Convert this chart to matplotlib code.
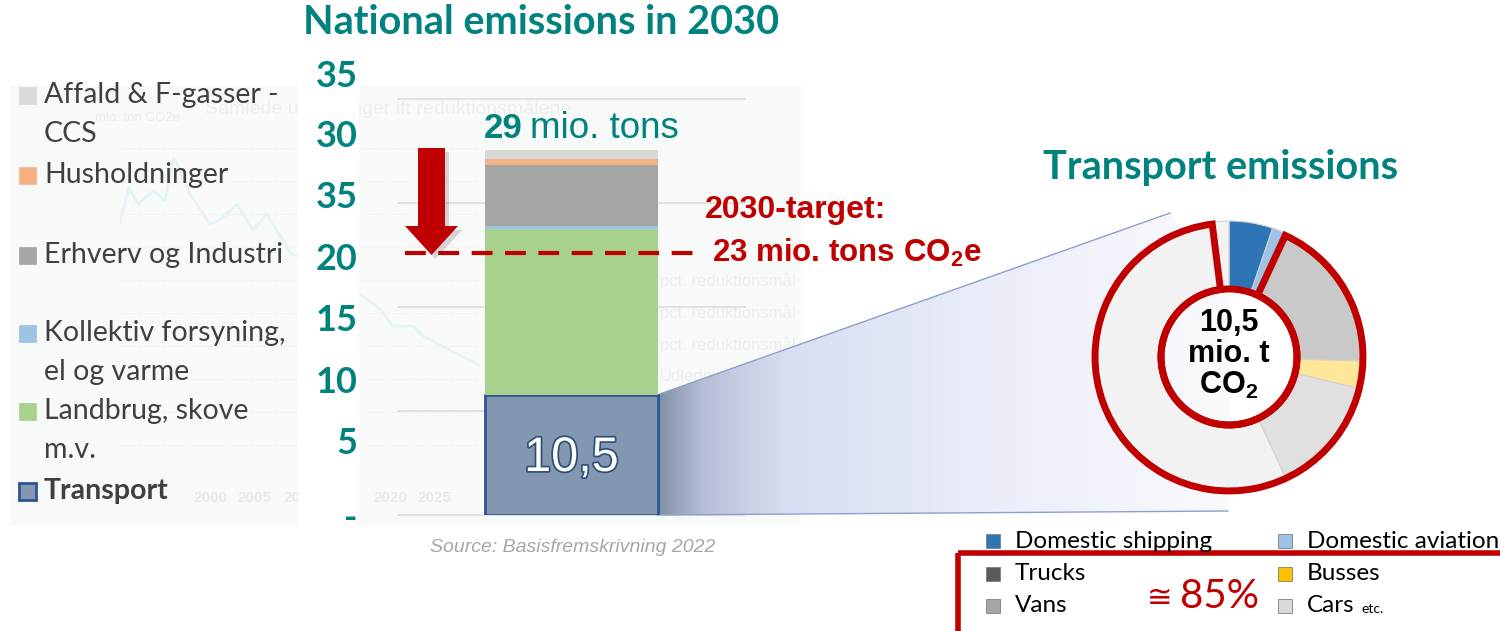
"""National emissions in 2030: stacked bar plus transport emissions donut."""

import numpy as np
import matplotlib
matplotlib.use("Agg")
import matplotlib.pyplot as plt
from matplotlib.patches import Polygon, Rectangle, Wedge, Circle, FancyArrow
from matplotlib.colors import LinearSegmentedColormap
import matplotlib.patheffects as pe

plt.rcParams["font.family"] = ["Liberation Sans", "DejaVu Sans"]
plt.rcParams["mathtext.fontset"] = "custom"
plt.rcParams["mathtext.rm"] = "Liberation Sans"
plt.rcParams["mathtext.bf"] = "Liberation Sans:bold"

# --- data --------------------------------------------------------------
sectors = ["Transport", "Landbrug, skove\nm.v.", "Kollektiv forsyning,\nel og varme",
           "Erhverv og Industri", "Husholdninger", "Affald & F-gasser -\nCCS"]
sector_values = [9.6, 13.2, 0.2, 4.9, 0.5, 0.7]          # mio. tons, as drawn
sector_colors = ["#8497B0", "#A9D18E", "#9DC3E6", "#A5A5A5", "#F4B183", "#D9D9D9"]

ytick_pos = [0, 5.9, 10.8, 15.7, 20.6, 25.5, 30.4, 35.2]
ytick_labels = ["-", "5", "10", "15", "20", "35", "30", "35"]
target_drawn = 20.9

transport_parts = ["Domestic shipping", "Domestic aviation", "Trucks", "Busses",
                   "Vans", "Cars etc.", "Other"]
transport_share = [5.2, 1.7, 18.6, 3.3, 14.2, 55.0, 2.0]
legend_colors = ["#2E75B6", "#9DC3E6", "#595959", "#FFC000", "#A5A5A5", "#D9D9D9"]
donut_colors = ["#2E75B6", "#9DC3E6", "#C9C9C9", "#FFE699", "#E0E0E0", "#F2F2F2", "#F2F2F2"]

# faint background picture (historical emissions line)
bg_years = [1990, 1991, 1992, 1993.7, 1995, 1996, 1997.8, 2000, 2001, 2003, 2004.8,
            2006.3, 2009, 2010, 2013, 2016, 2019, 2020.3, 2022.6, 2023.7, 2030]
bg_values = [77.6, 88, 83, 87, 84, 97, 86, 77, 78, 83, 75, 80, 68, 67, 62, 57, 51, 46, 46, 43, 34]

TEAL = "#00827F"
RED = "#C00000"
W, H = 1500, 631
LATO = ["Lato", "DejaVu Sans"]

fig = plt.figure(figsize=(15, 6.31), dpi=100)


def pixel_axes():
    a = fig.add_axes([0, 0, 1, 1])
    a.set_xlim(0, W)
    a.set_ylim(H, 0)
    a.axis("off")
    a.patch.set_alpha(0)
    return a


# back layer: faded picture, funnel
back = pixel_axes()
back.add_patch(Rectangle((10, 85), 790, 440, color="#F8FAFA", zorder=0))
back.text(95, 118, "mio. ton CO2e", color="#EBEBEB", fontsize=9.5, va="center")
back.text(205, 108, "Samlede udledninger ift reduktionsmålene", color="#EDEDED",
          fontsize=14, va="center")
for yy, s in [(281, "pct. reduktionsmål"), (313, "pct. reduktionsmål"),
              (345, "pct. reduktionsmål"), (377, "Udledning")]:
    back.text(660, yy, s, color="#EDEDED", fontsize=12, va="center")

bg = fig.add_axes([120 / W, (H - 478) / H, (480 - 120) / W, (478 - 148) / H])
bg.set_xlim(1990, 2030)
bg.set_ylim(0, 100)
bg.axis("off")
bg.plot(bg_years, bg_values, color="#E4F3F6", lw=2)
for v in range(10, 101, 10):
    bg.axhline(v, color="#F1F1F1", lw=0.8, ls="--")
for yr in [2000, 2005, 2010, 2020, 2025]:
    bg.text(yr, -4, str(yr), color="#E8E8E8", fontsize=11, ha="center", va="top",
            fontweight="bold")

mid = pixel_axes()
mid.add_patch(Rectangle((298, 60), 60, 470, color="white", zorder=1))
for gy in [99, 203, 307, 411, 515]:
    mid.plot([398, 745], [gy, gy], color="#DCDCDC", lw=1.2, zorder=1)

# funnel from transport bar to donut
poly = Polygon([(657, 395), (1170, 213), (1229, 300), (1228, 511), (657, 515)],
               closed=True, facecolor="none", edgecolor="none")
mid.add_patch(poly)
cmap = LinearSegmentedColormap.from_list(
    "funnel", [(0, "#7F8FA6"), (0.08, "#B7C0D8"), (0.22, "#D8DEF1"),
               (0.6, "#EBEEF9"), (1, "#FAFAFD")])
grad = np.linspace(0, 1, 256)[None, :]
im = mid.imshow(grad, cmap=cmap, extent=(657, 1229, 515, 205), aspect="auto", zorder=2)
im.set_clip_path(poly)
mid.plot([657, 1170], [395, 213], color="#8FA0C8", lw=1, zorder=2)
mid.plot([657, 1228], [515, 511], color="#8FA0C8", lw=1, zorder=2)
mid.set_xlim(0, W)
mid.set_ylim(H, 0)

# stacked bar
ax = fig.add_axes([398 / W, (H - 515) / H, 347 / W, 36 * 12.55 / H])
ax.set_xlim(-1, 1)
ax.set_ylim(0, 36)
ax.patch.set_alpha(0)
bottom = 0
for val, col in zip(sector_values, sector_colors):
    ax.bar(0, val, width=1.0, bottom=bottom, color=col, zorder=3)
    bottom += val
ax.patches[0].set_edgecolor("#2F5597")
ax.patches[0].set_linewidth(2)
ax.text(0, sector_values[0] / 2 - 0.3, "10,5", color="white", fontsize=35, ha="center",
        va="center", zorder=5,
        path_effects=[pe.withStroke(linewidth=2.5, foreground="#2F4F7A")])
ax.hlines(target_drawn, -0.96, 0.70, color=RED, lw=3, linestyles=(0, (5, 3)), zorder=4)
ax.set_yticks(ytick_pos)
ax.set_yticklabels(ytick_labels)
ax.tick_params(axis="y", length=0, pad=29, labelsize=26, labelcolor=TEAL)
for lab in ax.get_yticklabels():
    lab.set_fontweight("bold")
    lab.set_family(LATO)
ax.set_xticks([])
for sp in ax.spines.values():
    sp.set_visible(False)

# donut
dax = fig.add_axes([(1229 - 170) / W, (H - 357 - 170) / H, 340 / W, 340 / H])
dax.set_xlim(-1.1, 1.1)
dax.set_ylim(-1.1, 1.1)
dax.set_aspect("equal")
dax.axis("off")
dax.pie(transport_share, colors=donut_colors, startangle=90, counterclock=False,
        radius=1, wedgeprops=dict(width=0.5, edgecolor="#D0D0D0", linewidth=0.8))
cum = np.cumsum([0] + transport_share) / np.sum(transport_share)
start, end = cum[2], cum[6]
dax.add_patch(Wedge((0, 0), 0.985, 90 - end * 360, 90 - start * 360, width=0.485,
                    fill=False, edgecolor=RED, lw=5, zorder=5))
dax.add_patch(Circle((0, 0), 0.5, fill=False, edgecolor=RED, lw=5, zorder=5))
dax.text(0, 0.02, "10,5\nmio. t\nCO$_\\mathbf{2}$", fontsize=22, fontweight="bold",
         ha="center", va="center", linespacing=1.05)

# front layer: titles, arrow, annotations, legends
front = pixel_axes()
front.text(541, 22, "National emissions in 2030", color=TEAL, fontsize=28.5,
           fontweight="bold", family=LATO, ha="center", va="center")
front.text(1221, 167, "Transport emissions", color=TEAL, fontsize=28.5,
           fontweight="bold", family=LATO, ha="center", va="center")
front.text(484, 128, "29", color=TEAL, fontsize=25, fontweight="bold", ha="left",
           va="center")
front.text(530, 128, "mio. tons", color=TEAL, fontsize=26.5, ha="left", va="center")

front.add_patch(FancyArrow(435.5, 152, 0, 107, width=27, head_width=53, head_length=29,
                           length_includes_head=True, color="#000000", alpha=0.15,
                           lw=0, zorder=5))
front.add_patch(FancyArrow(431.5, 148, 0, 107, width=27, head_width=53, head_length=29,
                           length_includes_head=True, color=RED, lw=0, zorder=6))
front.text(705, 210, "2030-target:", color=RED, fontsize=23, fontweight="bold",
           va="center")
front.text(712, 253, r"23 mio. tons CO$_\mathbf{2}$e", color=RED, fontsize=22.5,
           fontweight="bold", va="center")

# left legend
leg_y = {5: 95, 4: 175, 3: 255, 2: 333, 1: 411, 0: 491}
for idx, y in leg_y.items():
    edge = "#2F5597" if idx == 0 else sector_colors[idx]
    front.add_patch(Rectangle((19, y - 8.5), 17, 17, facecolor=sector_colors[idx],
                              edgecolor=edge, lw=2 if idx == 0 else 0.5))
    for k, line in enumerate(sectors[idx].split("\n")):
        front.text(44, y + 39 * k, line, color="#404040", fontsize=20.5,
                   fontweight="bold" if idx == 0 else "normal",
                   family=LATO, va="center")

front.text(573, 548, "Source: Basisfremskrivning 2022", color="#A6A6A6", fontsize=14,
           style="italic", ha="center", va="center")

# transport legend
leg_pos = [(993, 541), (1285, 541), (993, 574), (1285, 574), (993, 606), (1285, 606)]
for (lx, ly), name, col in zip(leg_pos, transport_parts[:6], legend_colors):
    front.add_patch(Rectangle((lx - 7, ly - 7), 14, 14, facecolor=col,
                              edgecolor="#7F7F7F", lw=0.6))
    label = "Cars" if name == "Cars etc." else name
    front.text(lx + 22, ly, label, fontsize=17.5, family=LATO, va="center")
    if name == "Cars etc.":
        front.text(lx + 76, ly + 3, "etc.", fontsize=10, family=LATO, va="center")
front.add_patch(Rectangle((958, 553), 600, 120, fill=False, edgecolor=RED, lw=4))
front.text(1159, 598, "≅", color=RED, fontsize=22, ha="center", va="center",
           family=["DejaVu Sans"])
front.text(1220, 596, "85%", color=RED, fontsize=29, family=LATO, ha="center",
           va="center")

fig.savefig("out.png", dpi=100)
